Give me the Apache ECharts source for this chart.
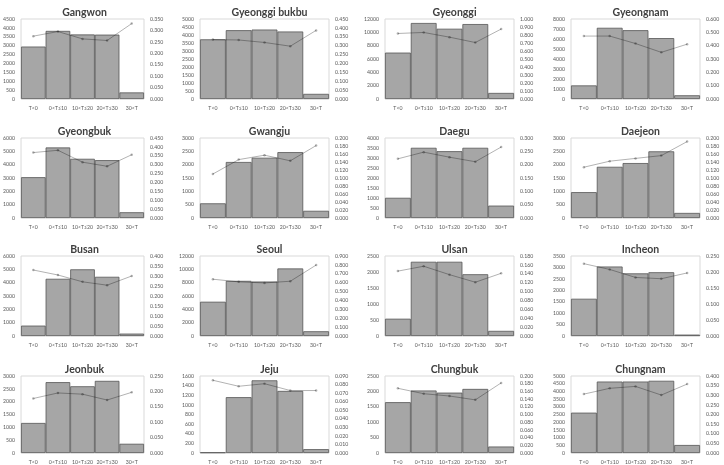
<!DOCTYPE html>
<html>
<head>
<meta charset="utf-8">
<script src="https://cdn.jsdelivr.net/npm/echarts@6/dist/echarts.min.js"></script>
<style>
  html, body { margin: 0; padding: 0; background: #fff; }
  #chart { width: 724px; height: 465px; }
</style>
</head>
<body>
<div id="chart"></div>
<script>
// categories on the x axis
const categories = ["T<0", "0<T≤10", "10<T≤20", "20<T≤30", "30<T"];

// panel titles, read left to right, top to bottom
const regions = ["Gangwon", "Gyeonggi bukbu", "Gyeonggi", "Gyeongnam",
  "Gyeongbuk", "Gwangju", "Daegu", "Daejeon",
  "Busan", "Seoul", "Ulsan", "Incheon",
  "Jeonbuk", "Jeju", "Chungbuk", "Chungnam"];

// bar values (left axis)
const countGangwon = [2950, 3830, 3630, 3620, 370];
const countGyeonggiBukbu = [3730, 4300, 4340, 4220, 320];
const countGyeonggi = [6960, 11400, 10540, 11240, 910];
const countGyeongnam = [1360, 7120, 6880, 6090, 370];
const countGyeongbuk = [3060, 5290, 4440, 4340, 430];
const countGwangju = [550, 2100, 2260, 2470, 270];
const countDaegu = [1010, 3510, 3340, 3510, 620];
const countDaejeon = [970, 1920, 2060, 2500, 190];
const countBusan = [780, 4290, 5000, 4440, 180];
const countSeoul = [5140, 8270, 8170, 10130, 710];
const countUlsan = [540, 2320, 2320, 1930, 160];
const countIncheon = [1630, 3040, 2740, 2790, 60];
const countJeonbuk = [1170, 2760, 2600, 2810, 360];
const countJeju = [13, 1160, 1510, 1290, 80];
const countChungbuk = [1650, 2030, 1960, 2080, 210];
const countChungnam = [2620, 4640, 4640, 4690, 520];

// line values (right axis)
const rateGangwon = [0.275, 0.295, 0.263, 0.256, 0.330];
const rateGyeonggiBukbu = [0.334, 0.332, 0.318, 0.297, 0.386];
const rateGyeonggi = [0.819, 0.832, 0.773, 0.706, 0.874];
const rateGyeongnam = [0.472, 0.472, 0.416, 0.350, 0.411];
const rateGyeongbuk = [0.368, 0.381, 0.314, 0.291, 0.356];
const rateGwangju = [0.110, 0.146, 0.157, 0.143, 0.181];
const rateDaegu = [0.222, 0.247, 0.228, 0.211, 0.266];
const rateDaejeon = [0.127, 0.142, 0.149, 0.156, 0.191];
const rateBusan = [0.330, 0.305, 0.271, 0.254, 0.300];
const rateSeoul = [0.639, 0.609, 0.597, 0.616, 0.798];
const rateUlsan = [0.146, 0.157, 0.138, 0.121, 0.141];
const rateIncheon = [0.226, 0.208, 0.183, 0.179, 0.197];
const rateJeonbuk = [0.177, 0.195, 0.191, 0.172, 0.197];
const rateJeju = [0.085, 0.078, 0.081, 0.073, 0.073];
const rateChungbuk = [0.168, 0.154, 0.148, 0.138, 0.182];
const rateChungnam = [0.306, 0.336, 0.346, 0.301, 0.358];

// axis ranges per panel
const leftMax = [4500, 5000, 12000, 8000, 6000, 3000, 4000, 3000, 6000, 12000, 2500, 3500, 3000, 1600, 2500, 5000];
const leftStep = [500, 500, 2000, 1000, 1000, 500, 500, 500, 1000, 2000, 500, 500, 500, 200, 500, 500];
const rightMax = [0.35, 0.45, 1.0, 0.6, 0.45, 0.2, 0.3, 0.2, 0.4, 0.9, 0.18, 0.25, 0.25, 0.09, 0.2, 0.4];
const rightStep = [0.05, 0.05, 0.1, 0.1, 0.05, 0.02, 0.05, 0.02, 0.05, 0.1, 0.02, 0.05, 0.05, 0.01, 0.02, 0.05];

const counts = [countGangwon, countGyeonggiBukbu, countGyeonggi, countGyeongnam,
  countGyeongbuk, countGwangju, countDaegu, countDaejeon,
  countBusan, countSeoul, countUlsan, countIncheon,
  countJeonbuk, countJeju, countChungbuk, countChungnam];
const rates = [rateGangwon, rateGyeonggiBukbu, rateGyeonggi, rateGyeongnam,
  rateGyeongbuk, rateGwangju, rateDaegu, rateDaejeon,
  rateBusan, rateSeoul, rateUlsan, rateIncheon,
  rateJeonbuk, rateJeju, rateChungbuk, rateChungnam];

// plot box layout (pixels)
const colLeft = [15, 200, 385, 571];
const rowTop = [19, 138, 256, 376];
const plotW = 129;
const plotH = 80;

const labelStyle = { fontSize: 5.2, color: "#595959", fontFamily: "Lato, sans-serif" };

let grid = [], xAxis = [], yAxis = [], series = [], title = [];

regions.forEach(function (name, i) {
  let left = colLeft[i % 4];
  let top = rowTop[Math.floor(i / 4)];

  title.push({
    text: name,
    left: left + plotW / 2,
    top: top - 17,
    textAlign: "center",
    textStyle: { fontSize: 10.5, fontWeight: "bold", color: "#404040", fontFamily: "Lato, sans-serif" }
  });

  grid.push({
    left: left, top: top, width: plotW, height: plotH,
    show: true, borderColor: "#d9d9d9", borderWidth: 1, backgroundColor: "#fff"
  });

  xAxis.push({
    type: "category", gridIndex: i, data: categories,
    axisLine: { show: false }, axisTick: { show: false },
    axisLabel: Object.assign({ margin: 7, interval: 0 }, labelStyle)
  });

  // left axis: plain integers, no thousands separator
  yAxis.push({
    type: "value", gridIndex: i, min: 0, max: leftMax[i], interval: leftStep[i],
    splitLine: { show: false }, axisLine: { show: false }, axisTick: { show: false },
    axisLabel: Object.assign({ margin: 6, formatter: function (v) { return String(v); } }, labelStyle)
  });
  yAxis.push({
    type: "value", gridIndex: i, position: "right", min: 0, max: rightMax[i], interval: rightStep[i],
    splitLine: { show: false }, axisLine: { show: false }, axisTick: { show: false },
    axisLabel: Object.assign({ margin: 6, formatter: function (v) { return v.toFixed(3); } }, labelStyle)
  });

  series.push({
    type: "bar", xAxisIndex: i, yAxisIndex: i * 2, data: counts[i],
    barCategoryGap: "0%",
    itemStyle: { color: "#a6a6a6", borderColor: "#555", borderWidth: 0.8 }
  });
  series.push({
    type: "line", xAxisIndex: i, yAxisIndex: i * 2 + 1, data: rates[i],
    symbol: "circle", symbolSize: 2.5,
    lineStyle: { color: "rgba(0,0,0,0.3)", width: 1 },
    itemStyle: { color: "rgba(0,0,0,0.3)" }
  });
});

let myChart = echarts.init(document.getElementById("chart"));
myChart.setOption({
  animation: false,
  title: title,
  grid: grid,
  xAxis: xAxis,
  yAxis: yAxis,
  series: series
});
</script>
</body>
</html>
